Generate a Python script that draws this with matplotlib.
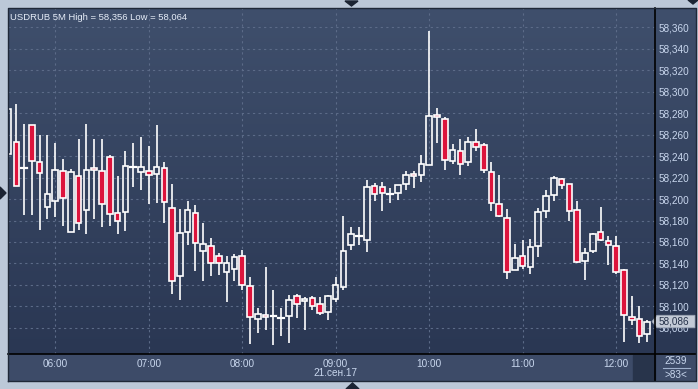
# USDRUB 5-minute candlestick chart, terminal style
import matplotlib.pyplot as plt
import numpy as np
from matplotlib.patches import Rectangle, Polygon
from matplotlib.lines import Line2D
from matplotlib.transforms import blended_transform_factory

# 5-minute bars from 05:30 to 12:20, 21 Sep 2017
opens = [58.242, 58.253, 58.229, 58.269, 58.234, 58.193, 58.198, 58.226, 58.169, 58.221,
         58.190, 58.229, 58.226, 58.239, 58.187, 58.188, 58.230, 58.225, 58.226, 58.223,
         58.229, 58.192, 58.128, 58.169, 58.187, 58.152, 58.156, 58.147, 58.132, 58.135,
         58.147, 58.119, 58.088, 58.092, 58.091, 58.089, 58.091, 58.110, 58.105, 58.108,
         58.102, 58.095, 58.107, 58.118, 58.157, 58.166, 58.162, 58.212, 58.211, 58.205,
         58.206, 58.214, 58.223, 58.222, 58.232, 58.278, 58.274, 58.235, 58.245, 58.234,
         58.253, 58.250, 58.225, 58.195, 58.182, 58.134, 58.147, 58.137, 58.156, 58.189,
         58.204, 58.219, 58.214, 58.190, 58.142, 58.152, 58.169, 58.161, 58.156, 58.134,
         58.090, 58.088, 58.074]
highs = [58.284, 58.288, 58.270, 58.269, 58.260, 58.260, 58.252, 58.237, 58.228, 58.256,
         58.270, 58.256, 58.256, 58.241, 58.221, 58.245, 58.252, 58.258, 58.249, 58.269,
         58.234, 58.214, 58.191, 58.198, 58.194, 58.178, 58.164, 58.150, 58.147, 58.149,
         58.153, 58.127, 58.099, 58.137, 58.115, 58.099, 58.111, 58.112, 58.109, 58.110,
         58.109, 58.111, 58.127, 58.184, 58.174, 58.174, 58.218, 58.215, 58.216, 58.210,
         58.213, 58.226, 58.226, 58.241, 58.356, 58.285, 58.276, 58.251, 58.256, 58.258,
         58.265, 58.252, 58.234, 58.222, 58.191, 58.158, 58.162, 58.163, 58.192, 58.208,
         58.221, 58.220, 58.214, 58.198, 58.154, 58.168, 58.193, 58.166, 58.166, 58.135,
         58.110, 58.100, 58.087]
lows = [58.242, 58.212, 58.185, 58.185, 58.171, 58.181, 58.183, 58.175, 58.169, 58.171,
        58.167, 58.181, 58.174, 58.175, 58.167, 58.170, 58.211, 58.208, 58.195, 58.196,
        58.178, 58.112, 58.106, 58.157, 58.133, 58.124, 58.128, 58.129, 58.104, 58.124,
        58.115, 58.065, 58.075, 58.078, 58.064, 58.073, 58.066, 58.089, 58.078, 58.097,
        58.092, 58.087, 58.104, 58.115, 58.153, 58.157, 58.151, 58.198, 58.189, 58.196,
        58.199, 58.208, 58.210, 58.216, 58.232, 58.252, 58.227, 58.233, 58.222, 58.231,
        58.245, 58.224, 58.189, 58.183, 58.126, 58.134, 58.135, 58.130, 58.146, 58.182,
        58.198, 58.209, 58.180, 58.140, 58.125, 58.150, 58.161, 58.139, 58.130, 58.067,
        58.083, 58.066, 58.067]
closes = [58.284, 58.212, 58.229, 58.235, 58.224, 58.205, 58.227, 58.201, 58.225, 58.178,
          58.227, 58.227, 58.195, 58.186, 58.180, 58.231, 58.230, 58.230, 58.222, 58.230,
          58.197, 58.124, 58.168, 58.190, 58.159, 58.158, 58.140, 58.140, 58.140, 58.146,
          58.120, 58.090, 58.093, 58.090, 58.091, 58.090, 58.106, 58.102, 58.107, 58.100,
          58.094, 58.110, 58.120, 58.152, 58.167, 58.166, 58.211, 58.205, 58.206, 58.205,
          58.213, 58.222, 58.221, 58.233, 58.277, 58.276, 58.236, 58.246, 58.233, 58.253,
          58.248, 58.227, 58.196, 58.184, 58.132, 58.145, 58.138, 58.155, 58.188, 58.203,
          58.220, 58.213, 58.189, 58.141, 58.150, 58.167, 58.162, 58.157, 58.132, 58.092,
          58.087, 58.073, 58.086]

hour_pos = [6, 18, 30, 42, 54, 66, 78]
hour_labels = ["06:00", "07:00", "08:00", "09:00", "10:00", "11:00", "12:00"]
price_levels = [58.08, 58.10, 58.12, 58.14, 58.16, 58.18, 58.20, 58.22,
                58.24, 58.26, 58.28, 58.30, 58.32, 58.34, 58.36]
last_price = 58.086

W, H = 698, 389
FONT = "Liberation Sans"
TICK_COL = "#c9d7ee"
FS = 7.2


def box(x0, y0, x1, y1):
    # pixel box (top-left origin) -> figure fraction [l, b, w, h]
    return [x0 / W, 1 - y1 / H, (x1 - x0) / W, (y1 - y0) / H]


fig = plt.figure(figsize=(W / 100, H / 100), dpi=100)
fig.patch.set_facecolor("#bcc8d8")

# time axis band (drawn behind everything)
band = fig.add_axes(box(8, 354, 696, 381), zorder=-2)
band.set_xlim(0, 1)
band.set_ylim(0, 1)
band.axis("off")
band.add_patch(Rectangle((0, 0), 1, 1, color="#3d4b68"))
band.add_patch(Rectangle((625 / 688, 0.02), 22 / 688, 0.96, color="#28344b"))

# gradient background behind plot and price scale
bg = fig.add_axes(box(8, 8, 696, 354), zorder=-1)
bg.axis("off")
top = np.array([63, 79, 108]) / 255
bot = np.array([42, 55, 83]) / 255
t = np.linspace(0, 1, 256)[:, None]
grad = top * (1 - t) + bot * t
bg.imshow(grad[:, None, :], aspect="auto", extent=(0, 1, 0, 1))
bg.set_xlim(0, 1)
bg.set_ylim(0, 1)

ax = fig.add_axes(box(8.3, 8, 655.3, 354))
ax.patch.set_alpha(0)
ax.set_xlim(-0.03, 83.03)
ax.set_ylim(58.0558, 58.3777)
for s in ax.spines.values():
    s.set_visible(False)

ax.grid(True, color="#5c6b88", linestyle=(0, (2, 3)), linewidth=0.8)
ax.set_axisbelow(True)

ax.set_xticks(hour_pos)
ax.set_xticklabels(hour_labels)
ax.set_yticks(price_levels)
ax.set_yticklabels([f"{p:.3f}".replace(".", ",") for p in price_levels])
ax.yaxis.tick_right()
ax.tick_params(axis="y", length=0, pad=2, labelcolor=TICK_COL, labelsize=FS)
ax.tick_params(axis="x", length=0, pad=3.5, labelcolor=TICK_COL, labelsize=FS)
for lab in ax.get_xticklabels() + ax.get_yticklabels():
    lab.set_fontfamily(FONT)
for lab in ax.get_yticklabels():
    lab.set_horizontalalignment("left")

# candles
bw = 0.72
for i, (o, h, l, c) in enumerate(zip(opens, highs, lows, closes)):
    up = c >= o
    btop, bbot = max(o, c), min(o, c)
    if h > btop:
        ax.plot([i, i], [btop, h], color="white", lw=1.2, solid_capstyle="butt", zorder=3)
    if l < bbot:
        ax.plot([i, i], [l, bbot], color="white", lw=1.2, solid_capstyle="butt", zorder=3)
    if btop - bbot < 0.0015:
        ax.plot([i - bw / 2, i + bw / 2], [o, o], color="white", lw=1.6, zorder=4)
        if not up:
            ax.add_patch(Rectangle((i - bw / 2, bbot), bw, btop - bbot,
                                   facecolor="#dc143c", edgecolor="white", lw=1.1, zorder=4))
        continue
    ax.add_patch(Rectangle((i - bw / 2, bbot), bw, btop - bbot,
                           facecolor="none" if up else "#dc143c",
                           edgecolor="white", lw=1.2, zorder=4))

ax.text(0.003, 0.985, "USDRUB 5M High = 58,356 Low = 58,064", transform=ax.transAxes,
        ha="left", va="top", color="#e6edf8", fontsize=6.8, family=FONT)

# date under 09:00
trans = blended_transform_factory(ax.transData, fig.transFigure)
ax.text(42, 1 - 373.5 / H, "21.сен.17", transform=trans, ha="center", va="center",
        color=TICK_COL, fontsize=FS, family=FONT, clip_on=False)

# last price marker
ytr = blended_transform_factory(fig.transFigure, ax.transData)
ax.add_patch(Polygon([(652 / W, last_price), (657 / W, last_price + 0.0058),
                      (695 / W, last_price + 0.0058), (695 / W, last_price - 0.0058),
                      (657 / W, last_price - 0.0058)], closed=True, transform=ytr,
                     facecolor="#c3cad6", edgecolor="#9aa3b3", lw=0.6, clip_on=False, zorder=6))
ax.text(659 / W, last_price, "58,086", transform=ytr, ha="left", va="center",
        color="#26324a", fontsize=FS, family=FONT, zorder=7, clip_on=False)

# separators and borders
lines = [((655.3, 655.3), (8, 381)), ((8, 696), (354.3, 354.3))]
for xs, ys in lines:
    fig.lines.append(Line2D([x / W for x in xs], [1 - y / H for y in ys],
                            transform=fig.transFigure, color="black", lw=1.2))
fig.lines.append(Line2D([8 / W, 8 / W, 696 / W, 696 / W, 8 / W],
                        [1 - 381 / H, 1 - 8 / H, 1 - 8 / H, 1 - 381 / H, 1 - 381 / H],
                        transform=fig.transFigure, color="#1f2838", lw=1.0))
fig.lines.append(Line2D([663 / W, 690 / W], [1 - 368 / H, 1 - 368 / H],
                        transform=fig.transFigure, color="#9fb0cc", lw=0.8))
fig.text(676 / W, 1 - 361.5 / H, "2539", ha="center", va="center",
         color=TICK_COL, fontsize=FS, family=FONT)
fig.text(676 / W, 1 - 374.5 / H, ">83<", ha="center", va="center",
         color=TICK_COL, fontsize=FS, family=FONT)

# small navigation arrows at the edges
for pts in ([(345, 1), (358, 1), (351.5, 6)],
            [(346, 389), (359, 389), (352.5, 383)],
            [(0, 187), (0, 199), (6, 193)],
            [(688, 0), (698, 0), (693, 4)]):
    fig.patches.append(Polygon([(x / W, 1 - y / H) for x, y in pts], closed=True,
                               transform=fig.transFigure, color="#1c2433", zorder=5))

fig.savefig("out.png", dpi=100, facecolor=fig.get_facecolor())
